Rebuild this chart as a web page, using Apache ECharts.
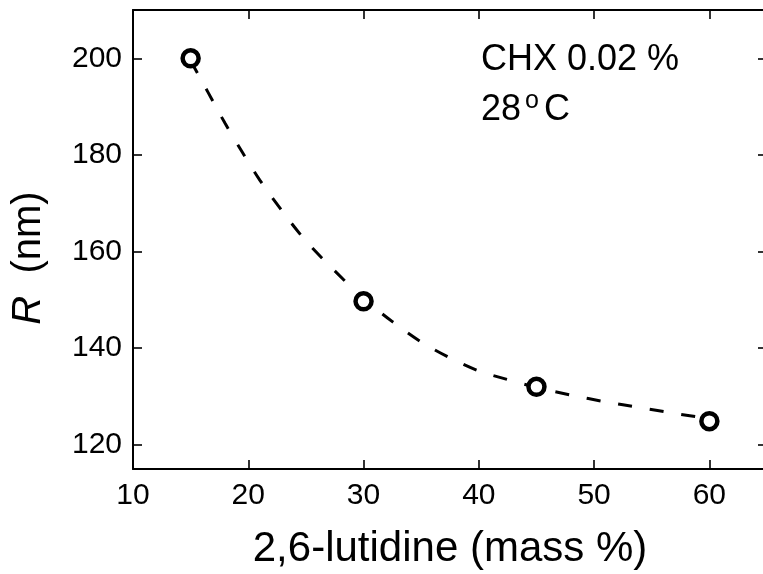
<!DOCTYPE html>
<html>
<head>
<meta charset="utf-8">
<script src="https://cdn.jsdelivr.net/npm/echarts@6/dist/echarts.min.js"></script>
<style>
  html, body { margin: 0; padding: 0; background: #fff; }
  #chart { width: 763px; height: 574px; }
</style>
</head>
<body>
<div id="chart"></div>
<script>
// measured points
const ptsX = [15, 30, 45, 60];
const ptsY = [200, 149.7, 132, 124.9];
// dashed guide curve
const fitX = [15, 16.5, 18, 19.5, 21, 23, 25, 27.5, 30, 32.5, 35, 37.5, 40, 42.5, 45, 48, 51, 54, 57, 60];
const fitY = [199.5, 193, 186.5, 180.5, 174.8, 168.2, 162.2, 156, 150.3, 145.5, 141.3, 138, 135.3, 133.5, 131.9, 130.3, 128.9, 127.7, 126.5, 125.4];
// tick labels
const xTicks = [10, 20, 30, 40, 50, 60];
const yTicks = [120, 140, 160, 180, 200];
const xTitle = '2,6-lutidine (mass %)';
const annot1 = 'CHX 0.02 %';

const FONT = '"Liberation Sans", Arial, sans-serif';
const chart = echarts.init(document.getElementById('chart'), null, { renderer: 'canvas' });

const axisLine = { show: true, lineStyle: { color: '#000', width: 2 } };
const tick = (vals) => ({ show: true, inside: true, length: 9, customValues: vals, lineStyle: { color: '#000', width: 1.6 } });

chart.setOption({
  animation: false,
  backgroundColor: '#fff',
  grid: { left: 133, top: 10, width: 634, height: 459, containLabel: false, outerBoundsMode: 'none' },
  xAxis: [
    {
      type: 'value', position: 'bottom', min: 10, max: 65,
      axisLine: axisLine, splitLine: { show: false },
      axisTick: tick(xTicks),
      axisLabel: { customValues: xTicks, margin: 12, fontSize: 30, color: '#000', fontFamily: FONT },
      name: xTitle, nameLocation: 'middle', nameGap: 59,
      nameTextStyle: { fontSize: 42, color: '#000', fontFamily: FONT, verticalAlign: 'top' }
    },
    {
      type: 'value', position: 'top', min: 10, max: 65,
      axisLine: axisLine, splitLine: { show: false },
      axisTick: tick(xTicks), axisLabel: { show: false }
    }
  ],
  yAxis: [
    {
      type: 'value', position: 'left', min: 115, max: 210,
      axisLine: axisLine, splitLine: { show: false },
      axisTick: tick(yTicks),
      axisLabel: { customValues: yTicks, margin: 11, fontSize: 30, color: '#000', fontFamily: FONT }
    },
    {
      type: 'value', position: 'right', min: 115, max: 210,
      axisLine: axisLine, splitLine: { show: false },
      axisTick: tick(yTicks), axisLabel: { show: false }
    }
  ],
  graphic: [
    {
      type: 'text', x: 29, y: 258, rotation: Math.PI / 2,
      style: {
        text: '{i|R}  (nm)', fill: '#000', font: '40px ' + FONT,
        align: 'center', verticalAlign: 'middle',
        rich: { i: { fontStyle: 'italic', fontSize: 40, fontFamily: FONT } }
      }
    },
    {
      type: 'text', x: 481, y: 59.6,
      style: { text: annot1, fill: '#000', font: '36px ' + FONT, align: 'left', verticalAlign: 'middle' }
    },
    {
      type: 'text', x: 481, y: 109.6,
      style: { text: '28', fill: '#000', font: '36px ' + FONT, align: 'left', verticalAlign: 'middle' }
    },
    {
      type: 'text', x: 525, y: 101,
      style: { text: 'o', fill: '#000', font: '25px ' + FONT, align: 'left', verticalAlign: 'middle' }
    },
    {
      type: 'text', x: 544, y: 109.6,
      style: { text: 'C', fill: '#000', font: '36px ' + FONT, align: 'left', verticalAlign: 'middle' }
    }
  ],
  series: [
    {
      type: 'line', xAxisIndex: 0, yAxisIndex: 0,
      data: fitX.map((x, i) => [x, fitY[i]]),
      smooth: 0.3, showSymbol: false, symbol: 'none',
      lineStyle: { color: '#000', width: 3, type: [14, 18], cap: 'butt' },
      z: 2
    },
    {
      type: 'scatter', xAxisIndex: 0, yAxisIndex: 0,
      data: ptsX.map((x, i) => [x, ptsY[i]]),
      symbol: 'circle', symbolSize: 16,
      itemStyle: { color: '#fff', borderColor: '#000', borderWidth: 4.5, opacity: 1 },
      z: 5
    }
  ]
});
</script>
</body>
</html>
